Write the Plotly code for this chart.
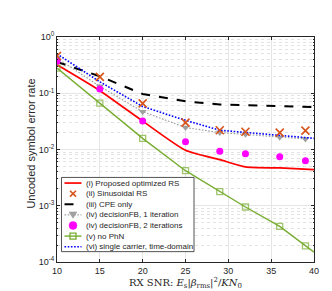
import plotly.graph_objects as go

# ---------------- data ----------------
snr = [10, 15, 20, 25, 29, 32, 36, 39]
snr_to40 = [10, 15, 20, 25, 29, 32, 36, 40]
snr_green = [10, 15, 20, 25, 29, 32, 36, 39, 40]

ser_proposed = [0.32, 0.111, 0.032, 0.0097, 0.0066, 0.0049, 0.0047, 0.0044]
ser_sinusoidal = [0.46, 0.195, 0.066, 0.030, 0.022, 0.0207, 0.020, 0.0216]
ser_cpe = [0.36, 0.20, 0.097, 0.072, 0.063, 0.061, 0.059, 0.057]
ser_dfb1 = [0.42, 0.133, 0.047, 0.0246, 0.020, 0.0186, 0.0165, 0.0154]
ser_dfb2 = [0.37, 0.119, 0.032, 0.0138, 0.0093, 0.0084, 0.0074, 0.0063]
ser_nophn = [0.28, 0.067, 0.0158, 0.0042, 0.00178, 0.00095, 0.00043, 0.000194, 0.00015]
ser_sc = [0.50, 0.16, 0.058, 0.033, 0.022, 0.020, 0.018, 0.0158]

legend_labels = [
    "(i) Proposed optimized RS",
    "(ii) Sinusoidal RS",
    "(iii) CPE only",
    "(iv) decisionFB, 1 iteration",
    "(iv) decisionFB, 2 iterations",
    "(v) no PhN",
    "(vi) single carrier, time-domain",
]
x_ticks = [10, 15, 20, 25, 30, 35, 40]
y_ticks = [1e-4, 1e-3, 1e-2, 1e-1, 1]
y_ticktext = ["10<sup>-4</sup>", "10<sup>-3</sup>", "10<sup>-2</sup>", "10<sup>-1</sup>", "10<sup>0</sup>"]

# ---------------- style ----------------
RED = "#FF0000"
ORANGE = "#D95319"
BLACK = "#000000"
GRAY = "#A0A0A0"
MAGENTA = "#FF00FF"
GREEN = "#77AC30"
BLUE = "#0000FF"
FINE_DOT = "1.6px,1.6px"

W, H = 332, 291
L, R, T, B = 49, 26, 29, 34

fig = go.Figure()

fig.add_trace(go.Scatter(x=snr_to40, y=ser_cpe, mode="lines",
                         line=dict(color=BLACK, width=2, dash="dash"), showlegend=False))
fig.add_trace(go.Scatter(x=snr, y=ser_dfb1, mode="lines+markers",
                         line=dict(color=GRAY, width=1.2, dash=FINE_DOT),
                         marker=dict(symbol="triangle-down", size=7, color=GRAY), showlegend=False))
fig.add_trace(go.Scatter(x=snr_to40, y=ser_sc, mode="lines",
                         line=dict(color=BLUE, width=1.6, dash=FINE_DOT), showlegend=False))
fig.add_trace(go.Scatter(x=snr_to40, y=ser_proposed, mode="lines", line_shape="spline",
                         line=dict(color=RED, width=1.7, smoothing=0.6), showlegend=False))
fig.add_trace(go.Scatter(x=snr_green, y=ser_nophn, mode="lines+markers",
                         line=dict(color=GREEN, width=1.4),
                         marker=dict(symbol="square-open", size=[6] * 8 + [0], color=GREEN,
                                     line=dict(width=1.3, color=GREEN)), showlegend=False))
fig.add_trace(go.Scatter(x=snr, y=ser_dfb2, mode="markers",
                         marker=dict(symbol="circle", size=7, color=MAGENTA), showlegend=False))
fig.add_trace(go.Scatter(x=snr, y=ser_sinusoidal, mode="markers",
                         marker=dict(symbol="x-thin", size=8, color=ORANGE,
                                     line=dict(width=1.6, color=ORANGE)), showlegend=False))

# ---------------- manual legend (compact like the original) ----------------
def px(xp):
    return (xp - L) / (W - L - R)


def py(yp):
    return (H - B - yp) / (H - T - B)


shapes = []
annotations = []
shapes.append(dict(type="rect", xref="paper", yref="paper",
                   x0=px(53.5), x1=px(186), y0=py(246.5), y1=py(171.3),
                   line=dict(color="#262626", width=0.8), fillcolor="white", layer="above"))

row0, step = 177.0, 10.75
lx0, lx1, mx = 56.5, 73.5, 65.0
styles = [
    dict(line=dict(color=RED, width=1.7), marker=None),
    dict(line=None, marker="x"),
    dict(line=dict(color=BLACK, width=2, dash="dash"), marker=None),
    dict(line=dict(color=GRAY, width=1.2, dash=FINE_DOT), marker="tri"),
    dict(line=None, marker="circle"),
    dict(line=dict(color=GREEN, width=1.4), marker="square"),
    dict(line=dict(color=BLUE, width=1.6, dash=FINE_DOT), marker=None),
]
for i, (lab, st) in enumerate(zip(legend_labels, styles)):
    yc = row0 + i * step
    if st["line"] is not None:
        shapes.append(dict(type="line", xref="paper", yref="paper",
                           x0=px(lx0), x1=px(lx1), y0=py(yc), y1=py(yc),
                           line=st["line"], layer="above"))
    m = st["marker"]
    if m == "x":
        for d in (1, -1):
            shapes.append(dict(type="line", xref="paper", yref="paper",
                               x0=px(mx - 3), x1=px(mx + 3), y0=py(yc - 3 * d), y1=py(yc + 3 * d),
                               line=dict(color=ORANGE, width=1.6), layer="above"))
    elif m == "tri":
        shapes.append(dict(type="path", xref="paper", yref="paper",
                           path=f"M {px(mx-4)} {py(yc-3)} L {px(mx+4)} {py(yc-3)} L {px(mx)} {py(yc+3.5)} Z",
                           fillcolor=GRAY, line=dict(color=GRAY, width=0.5), layer="above"))
    elif m == "circle":
        shapes.append(dict(type="circle", xref="paper", yref="paper",
                           x0=px(mx - 4), x1=px(mx + 4), y0=py(yc + 4), y1=py(yc - 4),
                           fillcolor=MAGENTA, line=dict(color=MAGENTA, width=0.5), layer="above"))
    elif m == "square":
        shapes.append(dict(type="rect", xref="paper", yref="paper",
                           x0=px(mx - 3), x1=px(mx + 3), y0=py(yc + 3), y1=py(yc - 3),
                           fillcolor="rgba(0,0,0,0)", line=dict(color=GREEN, width=1.3), layer="above"))
    annotations.append(dict(xref="paper", yref="paper", x=px(76), y=py(yc),
                            xanchor="left", yanchor="middle", showarrow=False, text=lab,
                            font=dict(family="Liberation Sans, Arial, sans-serif", size=8, color="#262626")))

# y-axis title placed like the original (close to the tick labels)
annotations.append(dict(xref="paper", yref="paper", x=px(23), y=py(137),
                        xanchor="center", yanchor="middle", showarrow=False, textangle=-90,
                        text="Uncoded symbol error rate",
                        font=dict(family="Liberation Sans, Arial, sans-serif", size=11, color="#262626")))

axis_common = dict(showline=True, linecolor="#262626", linewidth=0.8, mirror="ticks",
                   ticks="inside", ticklen=3, tickcolor="#262626",
                   tickfont=dict(family="Liberation Sans, Arial, sans-serif", size=9, color="#262626"),
                   zeroline=False, gridcolor="#E6E6E6", gridwidth=0.8)

fig.update_layout(
    width=W, height=H,
    margin=dict(l=L, r=R, t=T, b=B, pad=0),
    paper_bgcolor="white", plot_bgcolor="white",
    showlegend=False,
    shapes=shapes,
    annotations=annotations,
    xaxis=dict(range=[10, 40], tickvals=x_ticks, ticktext=[str(v) for v in x_ticks],
               title=dict(text="RX SNR: <i>E</i><sub>s</sub>|<i>β</i><sub>rms</sub>|<sup>2</sup>/<i>KN</i><sub>0</sub>",
                          font=dict(family="DejaVu Serif, serif", size=10, color="#262626"), standoff=4),
               **axis_common),
    yaxis=dict(type="log", range=[-4, 0], tickvals=y_ticks, ticktext=y_ticktext,
               minor=dict(tickvals=[k * 10 ** e for e in range(-4, 0) for k in range(2, 10)],
                          showgrid=True, gridcolor="#E3E3E3", griddash="dot", gridwidth=0.8,
                          ticks="inside", ticklen=1.5, tickcolor="#262626"),
               **axis_common),
)

fig.write_html("out.html")
